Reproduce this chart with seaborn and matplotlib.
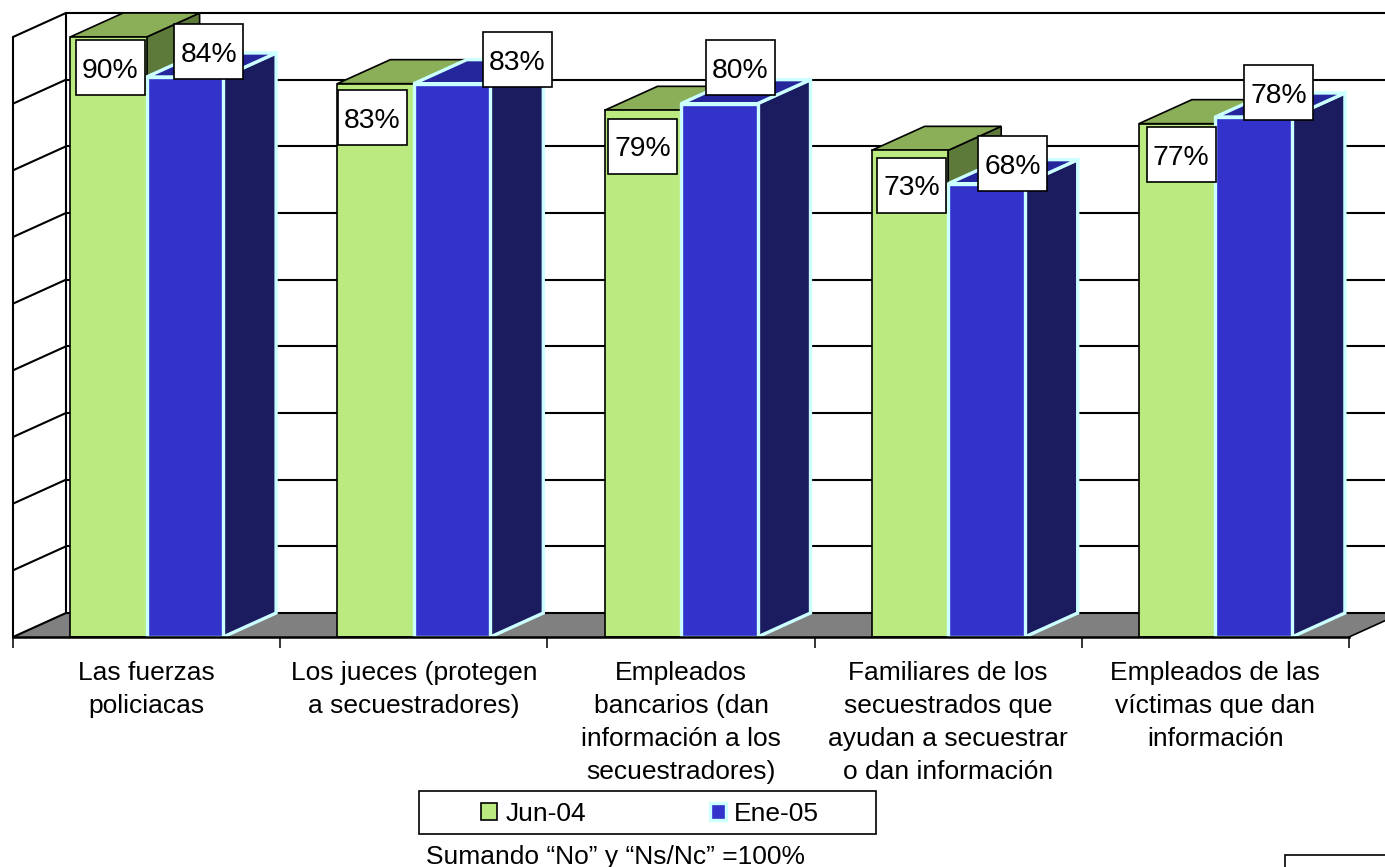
import matplotlib
matplotlib.use('Agg')
import numpy as np
import pandas as pd
import matplotlib.pyplot as plt
import seaborn as sns
from matplotlib.patches import Polygon, Rectangle
from matplotlib.path import Path

grupos = ['Las fuerzas\npoliciacas',
          'Los jueces (protegen\na secuestradores)',
          'Empleados\nbancarios (dan\ninformación a los\nsecuestradores)',
          'Familiares de los\nsecuestrados que\nayudan a secuestrar\no dan información',
          'Empleados de las\nvíctimas que dan\ninformación']
jun04 = [90, 83, 79, 73, 77]
ene05 = [84, 83, 80, 68, 78]
series = ['Jun-04', 'Ene-05']
ticks_y = [0, 10, 20, 30, 40, 50, 60, 70, 80, 90]

df = pd.DataFrame({'grupo': grupos * 2,
                   'pct': jun04 + ene05,
                   'serie': [series[0]] * 5 + [series[1]] * 5})

sns.set_theme(style='white')
plt.rcParams['font.family'] = ['Liberation Sans', 'DejaVu Sans']

W, H = 1385, 867
fig = plt.figure(figsize=(W / 100, H / 100), dpi=100)
ax = fig.add_axes([13 / W, 1 - 637 / H, 1372 / W, 624 / H])

# profundidad del falso 3D, en unidades de datos
dx = 53 / 267.2
dy = 3.6

VERDE, VERDE_TOP, VERDE_SIDE = '#BAEA80', '#8BAE58', '#5E7A3A'
AZUL, AZUL_TOP, AZUL_SIDE = '#3333CC', '#25259C', '#1B1B60'
CIAN = '#CCFFFF'

sns.barplot(data=df, x='grupo', y='pct', hue='serie', hue_order=series,
            palette=[VERDE, AZUL], width=153 / 267.2, gap=0, saturation=1,
            legend=True, ax=ax)
ax.set_xlim(-0.5, 4.5 + 36 / 267.2)
ax.set_ylim(0, 90 + dy)
ax.set_xlabel('')
ax.set_ylabel('')
ax.patch.set_alpha(0)

# suelo y paredes
x_fin = 4.5 + dx
ax.add_patch(Polygon([(-0.5, 0), (-0.5 + dx, dy), (x_fin, dy), (4.5, 0)],
                     facecolor='#808080', edgecolor='none', zorder=1, clip_on=False))
for v in ticks_y:
    ax.plot([-0.5 + dx, x_fin], [v + dy, v + dy], color='black', lw=1.5, zorder=1.5, clip_on=False)
    ax.plot([-0.5, -0.5 + dx], [v, v + dy], color='black', lw=1.5, zorder=1.5, clip_on=False)
ax.plot([-0.5 + dx, -0.5 + dx], [dy, 90 + dy], color='black', lw=1.5, zorder=1.5, clip_on=False)
ax.plot([-0.5, -0.5], [0, 90], color='black', lw=1.5, zorder=1.5, clip_on=False)
ax.plot([4.5, x_fin], [0, dy], color='black', lw=1.2, zorder=1.5, clip_on=False)


def caras(barra, top, side, borde, lw, z):
    l, r, h = barra.get_x(), barra.get_x() + barra.get_width(), barra.get_height()
    barra.set_edgecolor(borde)
    barra.set_linewidth(lw)
    barra.set_zorder(z + 0.2)
    ax.add_patch(Polygon([(r, 0), (r + dx, dy), (r + dx, h + dy), (r, h)],
                         facecolor=side, edgecolor=borde, lw=lw, zorder=z, clip_on=False))
    ax.add_patch(Polygon([(l, h), (l + dx, h + dy), (r + dx, h + dy), (r, h)],
                         facecolor=top, edgecolor=borde, lw=lw, zorder=z + 0.1, clip_on=False))


verdes, azules = ax.containers[0], ax.containers[1]
for b in verdes:
    caras(b, VERDE_TOP, VERDE_SIDE, 'black', 1.2, 3)
for b in azules:
    caras(b, AZUL_TOP, AZUL_SIDE, CIAN, 2.4, 4)


def caja(x0, y0, w, h, mutation_size):
    # caja blanca de tamaño fijo, igual para todas las etiquetas
    cx, cy = x0 + w / 2, y0 + h / 2 + 3
    a, b = 34.5, 27.5
    return Path([(cx - a, cy - b), (cx + a, cy - b), (cx + a, cy + b), (cx - a, cy + b), (cx - a, cy - b)],
                closed=True)


desp_verde = [(2, -34), (-3, -37), (0, -39), (2, -38), (4, -34)]
desp_azul = [(24, 22), (65, 21), (21, 33), (26, 17), (25, 21)]
for barras, desps in [(verdes, desp_verde), (azules, desp_azul)]:
    for b, d in zip(barras, desps):
        ax.annotate(f'{b.get_height():.0f}%',
                    xy=(b.get_x() + b.get_width() / 2, b.get_height()),
                    xytext=d, textcoords='offset pixels', ha='center', va='center',
                    fontsize=20.3, color='black', zorder=6,
                    bbox=dict(boxstyle=caja, facecolor='white', edgecolor='black', lw=1.2),
                    annotation_clip=False)

# ejes
sns.despine(ax=ax, left=True, top=True, right=True)
ax.spines['bottom'].set_bounds(-0.5, 4.5)
ax.spines['bottom'].set_linewidth(1.8)
ax.spines['bottom'].set_color('black')
ax.spines['bottom'].set_zorder(5)
ax.set_yticks([])
ax.set_xticks(range(5))
ax.set_xticklabels(grupos, fontsize=19, color='black', linespacing=1.475)
ax.set_xticks(np.arange(-0.5, 5), minor=True)
ax.tick_params(axis='x', which='major', length=0, pad=17.5)
ax.tick_params(axis='x', which='minor', bottom=True, length=8, width=1.1, color='black')

# leyenda
handles, labels = ax.get_legend_handles_labels()
ax.get_legend().remove()
fig.add_artist(Rectangle((419 / W, 1 - 834 / H), 457 / W, 43 / H, transform=fig.transFigure,
                         facecolor='white', edgecolor='black', lw=1.2))
leg = fig.legend(handles, labels, ncol=2, loc='center', bbox_to_anchor=(650 / W, 1 - 814 / H),
                 frameon=False, fontsize=19, handlelength=0.6, handleheight=0.6,
                 handletextpad=0.3, columnspacing=4.7, labelcolor='black')
leg.set_zorder(5)
leg.legend_handles[0].set_edgecolor('black')
leg.legend_handles[0].set_linewidth(1.2)
leg.legend_handles[1].set_edgecolor(CIAN)
leg.legend_handles[1].set_linewidth(2.4)

fig.text(426 / W, 1 - 857 / H, 'Sumando “No” y “Ns/Nc” =100%', fontsize=19, color='black',
         ha='left', va='center')
fig.add_artist(Rectangle((1285 / W, 1 - 900 / H), 140 / W, 45 / H, transform=fig.transFigure,
                         facecolor='white', edgecolor='black', lw=1.2))

fig.savefig('out.png', dpi=100, facecolor='white')
